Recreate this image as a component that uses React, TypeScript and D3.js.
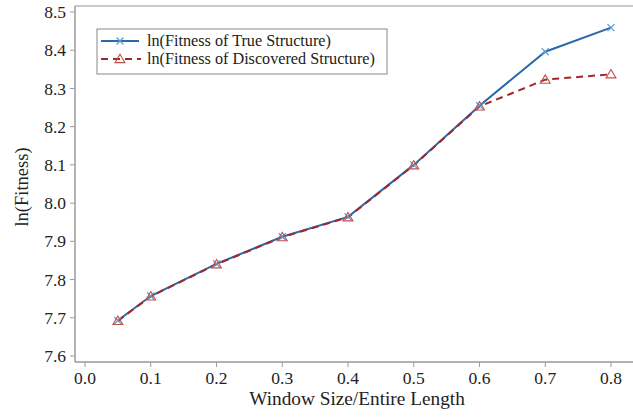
import React from "react";
import * as d3 from "d3";

const xValues = [0.05, 0.1, 0.2, 0.3, 0.4, 0.5, 0.6, 0.7, 0.8];
const trueFitness = [7.693, 7.757, 7.841, 7.912, 7.964, 8.1, 8.255, 8.396, 8.459];
const discoveredFitness = [7.692, 7.756, 7.84, 7.911, 7.963, 8.099, 8.253, 8.323, 8.337];
const xTicks = [0.0, 0.1, 0.2, 0.3, 0.4, 0.5, 0.6, 0.7, 0.8];
const yTicks = [7.6, 7.7, 7.8, 7.9, 8.0, 8.1, 8.2, 8.3, 8.4, 8.5];
const seriesNames = ["ln(Fitness of True Structure)", "ln(Fitness of Discovered Structure)"];

const W = 633;
const H = 417;
const FONT = "'Liberation Serif', 'Times New Roman', serif";

export default function App() {
  const left = 75, right = 633, top = 6, bottom = 362;
  const x = d3.scaleLinear().domain([0, 0.8]).range([85, 611]);
  const y = d3.scaleLinear().domain([7.6, 8.5]).range([356, 12]);

  const line = d3.line<number>().x((_, i) => x(xValues[i])).y((d) => y(d));

  const trueColor = "#2b68a8";
  const trueMarker = "#5a9bd0";
  const discColor = "#a3262a";
  const discMarker = "#c0504d";

  const tri = (cx: number, cy: number, s: number) =>
    `M${cx},${cy - s * 0.6} L${cx + s * 0.62},${cy + s * 0.45} L${cx - s * 0.62},${cy + s * 0.45} Z`;
  const cross = (cx: number, cy: number, s: number) =>
    `M${cx - s},${cy - s} L${cx + s},${cy + s} M${cx - s},${cy + s} L${cx + s},${cy - s}`;

  const lg = { x: 97, y: 29, w: 290, h: 45 };

  return (
    <svg width={W} height={H} style={{ position: "absolute", left: 0, top: 0, background: "#fff" }} fontFamily={FONT}>
      {/* frame */}
      <line x1={left} x2={right} y1={top} y2={top} stroke="#b8b8b8" strokeWidth={1.5} />
      <line x1={left} x2={left} y1={top} y2={bottom} stroke="#9a9a9a" strokeWidth={1.5} />
      <line x1={left} x2={right} y1={bottom} y2={bottom} stroke="#9a9a9a" strokeWidth={1.5} />

      {/* y ticks */}
      {yTicks.map((t) => (
        <g key={"y" + t}>
          <line x1={left - 5} x2={left} y1={y(t)} y2={y(t)} stroke="#9a9a9a" strokeWidth={1} />
          <text x={left - 9} y={y(t)} dy="0.35em" textAnchor="end" fontSize={17.5} fill="#222">
            {t.toFixed(1)}
          </text>
        </g>
      ))}
      {/* x ticks */}
      {xTicks.map((t) => (
        <g key={"x" + t}>
          <line x1={x(t)} x2={x(t)} y1={bottom} y2={bottom + 5} stroke="#9a9a9a" strokeWidth={1} />
          <text x={x(t)} y={bottom + 22} textAnchor="middle" fontSize={17.5} fill="#222">
            {t.toFixed(1)}
          </text>
        </g>
      ))}

      {/* axis labels */}
      <text x={357} y={405} textAnchor="middle" fontSize={19.3} fill="#222">
        Window Size/Entire Length
      </text>
      <text transform={`translate(28,187) rotate(-90)`} textAnchor="middle" fontSize={18.5} fill="#222">
        ln(Fitness)
      </text>

      {/* lines */}
      <path d={line(trueFitness) || ""} fill="none" stroke={trueColor} strokeWidth={2} />
      <path d={line(discoveredFitness) || ""} fill="none" stroke={discColor} strokeWidth={2} strokeDasharray="7,5" />

      {/* markers */}
      {trueFitness.map((v, i) => (
        <path key={"tm" + i} d={cross(x(xValues[i]), y(v), 3.5)} stroke={trueMarker} strokeWidth={1.2} fill="none" />
      ))}
      {discoveredFitness.map((v, i) => (
        <path key={"dm" + i} d={tri(x(xValues[i]), y(v), 8)} stroke={discMarker} strokeWidth={1.1} fill="none" />
      ))}

      {/* legend */}
      <rect x={lg.x} y={lg.y} width={lg.w} height={lg.h} fill="#fff" stroke="#888" strokeWidth={1} />
      <line x1={101} x2={139} y1={41} y2={41} stroke={trueColor} strokeWidth={2} />
      <path d={cross(120, 41, 3.5)} stroke={trueMarker} strokeWidth={1.2} fill="none" />
      <text x={147} y={41} dy="0.33em" fontSize={16.2} fill="#222">{seriesNames[0]}</text>
      <line x1={101} x2={141} y1={59} y2={59} stroke={discColor} strokeWidth={2} strokeDasharray="7,5" />
      <path d={tri(120, 59, 8)} stroke={discMarker} strokeWidth={1.1} fill="none" />
      <text x={147} y={59} dy="0.33em" fontSize={16.2} fill="#222">{seriesNames[1]}</text>
    </svg>
  );
}
